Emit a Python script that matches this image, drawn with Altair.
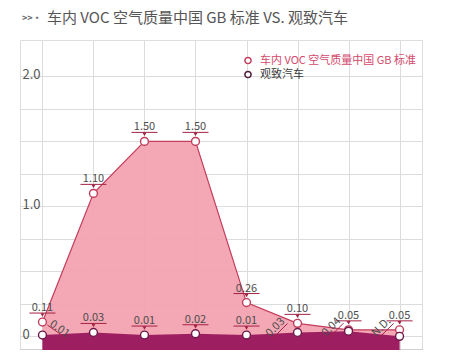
import altair as alt
import pandas as pd

CATEGORIES = ["苯", "甲苯", "二甲苯", "乙苯", "苯乙烯", "甲醛", "乙醛", "丙烯醛"]
GB_VALUES = [0.11, 1.10, 1.50, 1.50, 0.26, 0.10, 0.05, 0.05]
QOROS_VALUES = [0.01, 0.03, 0.01, 0.02, 0.01, 0.03, 0.04, 0.0]
GB_LABELS = ["0.11", "1.10", "1.50", "1.50", "0.26", "0.10", "0.05", "0.05"]
QOROS_LABELS = ["0.01", "0.03", "0.01", "0.02", "0.01", "0.03", "0.04", "N.D."]
SERIES_NAMES = ["车内 VOC 空气质量中国 GB 标准", "观致汽车"]
TITLE = "车内 VOC 空气质量中国 GB 标准 VS. 观致汽车"
Y_TICKS = [0, 0.25, 0.5, 0.75, 1.0, 1.25, 1.5, 1.75, 2.0]
Y_MIN, Y_MAX = -0.105, 2.28

PINK = "#f3a0ae"
PINK_LINE = "#c23d5c"
DARK = "#9d1f62"
DARK_PT = "#6e1748"
MARK_RED = "#a32244"
TXT = "#4d4d4d"
FONT = "Noto Sans CJK SC"

df = pd.DataFrame({
    "cat": CATEGORIES,
    "gb": GB_VALUES,
    "qoros": QOROS_VALUES,
    "gb_lab": GB_LABELS,
    "q_lab": QOROS_LABELS,
    "idx": list(range(len(CATEGORIES))),
})

x_enc = alt.X(
    "cat:N", sort=CATEGORIES, title=None,
    scale=alt.Scale(type="point", padding=0.44),
    axis=alt.Axis(labels=False, ticks=False, grid=True, gridColor="#dcdcdc",
                  gridWidth=1, domainColor="#4a4a4a", domainWidth=1.5),
)


def y_enc(field):
    return alt.Y(
        f"{field}:Q", title=None,
        scale=alt.Scale(domain=[Y_MIN, Y_MAX], nice=False, zero=False),
        axis=alt.Axis(values=Y_TICKS, domain=False, ticks=False, grid=True,
                      gridColor="#dcdcdc", gridWidth=1,
                      labelAlign="left", labelPadding=-2, labelBaseline="alphabetic",
                      labelOffset=2, labelFontSize=13, labelColor="#555555", labelFont=FONT,
                      labelExpr="datum.value == 0 ? '0' : (datum.value == 1 || datum.value == 2) ? format(datum.value, '.1f') : ''"),
    )


base = alt.Chart(df)

pink_area = base.mark_area(color=PINK, fillOpacity=0.92).encode(
    x=x_enc, y=y_enc("gb"), y2=alt.datum(Y_MIN))
pink_line = base.mark_line(color=PINK_LINE, strokeWidth=1.2).encode(x=x_enc, y=y_enc("gb"))
dark_area = base.mark_area(color=DARK).encode(
    x=x_enc, y=y_enc("qoros"), y2=alt.datum(Y_MIN))

pink_pts = base.mark_point(shape="circle", filled=True, fill="white", stroke=PINK_LINE,
                           strokeWidth=1.4, size=62, opacity=1).encode(x=x_enc, y=y_enc("gb"))
dark_pts = base.mark_point(shape="circle", filled=True, fill="white", stroke=DARK_PT,
                           strokeWidth=1.4, size=62, opacity=1).encode(x=x_enc, y=y_enc("qoros"))


def callout(data, field, labfield):
    rule = data.mark_rule(color=MARK_RED, strokeWidth=1, xOffset=-13, x2Offset=13, yOffset=-9).encode(
        x=x_enc, x2=alt.X2("cat:N"), y=y_enc(field))
    tri = data.mark_point(shape="triangle-down", filled=True, color=MARK_RED, size=16,
                          opacity=1, yOffset=-7).encode(x=x_enc, y=y_enc(field))
    txt = data.mark_text(fontSize=11, color=TXT, font=FONT, baseline="alphabetic",
                         yOffset=-11).encode(x=x_enc, y=y_enc(field), text=f"{labfield}:N")
    return [rule, tri, txt]


gb_callouts = callout(base, "gb", "gb_lab")
q_upright = base.transform_filter("datum.idx >= 1 && datum.idx <= 4")
q_callouts = callout(q_upright, "qoros", "q_lab")

# rotated labels for the car series (index: (angle, text dx, text dy))
ROT = {0: (35, 17, -6), 5: (315, -22, -5), 6: (315, -17, -4), 7: (315, -18, -9)}
rot_layers = []
for i, (ang, dx, dy) in ROT.items():
    d = base.transform_filter(f"datum.idx == {i}")
    rot_layers.append(d.mark_text(fontSize=11, color=TXT, font=FONT, angle=ang,
                                  baseline="middle", align="center",
                                  xOffset=dx, yOffset=dy).encode(
        x=x_enc, y=y_enc("qoros"), text="q_lab:N"))
    if ang == 35:
        ox1, oy1, ox2, oy2 = dx - 12, dy - 4, dx + 8, dy + 10
    else:
        cx, cy = dx + 4, dy + 4
        ox1, oy1, ox2, oy2 = cx - 8, cy + 8, cx + 8, cy - 8
    rot_layers.append(d.mark_rule(color=MARK_RED, strokeWidth=1,
                                  xOffset=ox1, yOffset=oy1, x2Offset=ox2, y2Offset=oy2).encode(
        x=x_enc, x2=alt.X2("cat:N"), y=y_enc("qoros"), y2=alt.Y2("qoros:Q")))

# title
title_df = pd.DataFrame({"t": [TITLE], "p": [">>·"]})
title_prefix = alt.Chart(title_df).mark_text(fontSize=9, color="#666666", align="left",
                                             baseline="middle", font=FONT, fontWeight="bold").encode(
    text="p:N", x=alt.value(2), y=alt.value(-22))
title_main = alt.Chart(title_df).mark_text(fontSize=15, color="#555555", align="left",
                                           baseline="middle", font=FONT).encode(
    text="t:N", x=alt.value(27), y=alt.value(-22))

# legend
leg_df = pd.DataFrame({"name": SERIES_NAMES})
leg_layers = []
for i, (tc, sc) in enumerate([("#d4496c", PINK_LINE), ("#3a3a3a", "#4a1838")]):
    d = alt.Chart(leg_df).transform_filter(alt.datum.name == SERIES_NAMES[i])
    yy = 20.5 + i * 14
    leg_layers.append(d.mark_point(shape="circle", filled=True, fill="white", stroke=sc,
                                   strokeWidth=1.5, size=38, opacity=1).encode(
        x=alt.value(228), y=alt.value(yy)))
    leg_layers.append(d.mark_text(fontSize=11, color=tc, align="left", baseline="middle",
                                  font=FONT).encode(text="name:N", x=alt.value(240), y=alt.value(yy)))

chart = alt.layer(
    pink_area, dark_area, pink_line, *gb_callouts, *q_callouts, *rot_layers,
    pink_pts, dark_pts, title_prefix, title_main, *leg_layers,
).properties(
    width=402, height=310,
    autosize=alt.AutoSizeParams(type="none"),
    padding={"left": 12, "top": 32, "right": 20, "bottom": 0},
).configure_view(stroke=None).configure(background="white")

chart.save("out.html", embed_options={"renderer": "svg", "actions": False})
